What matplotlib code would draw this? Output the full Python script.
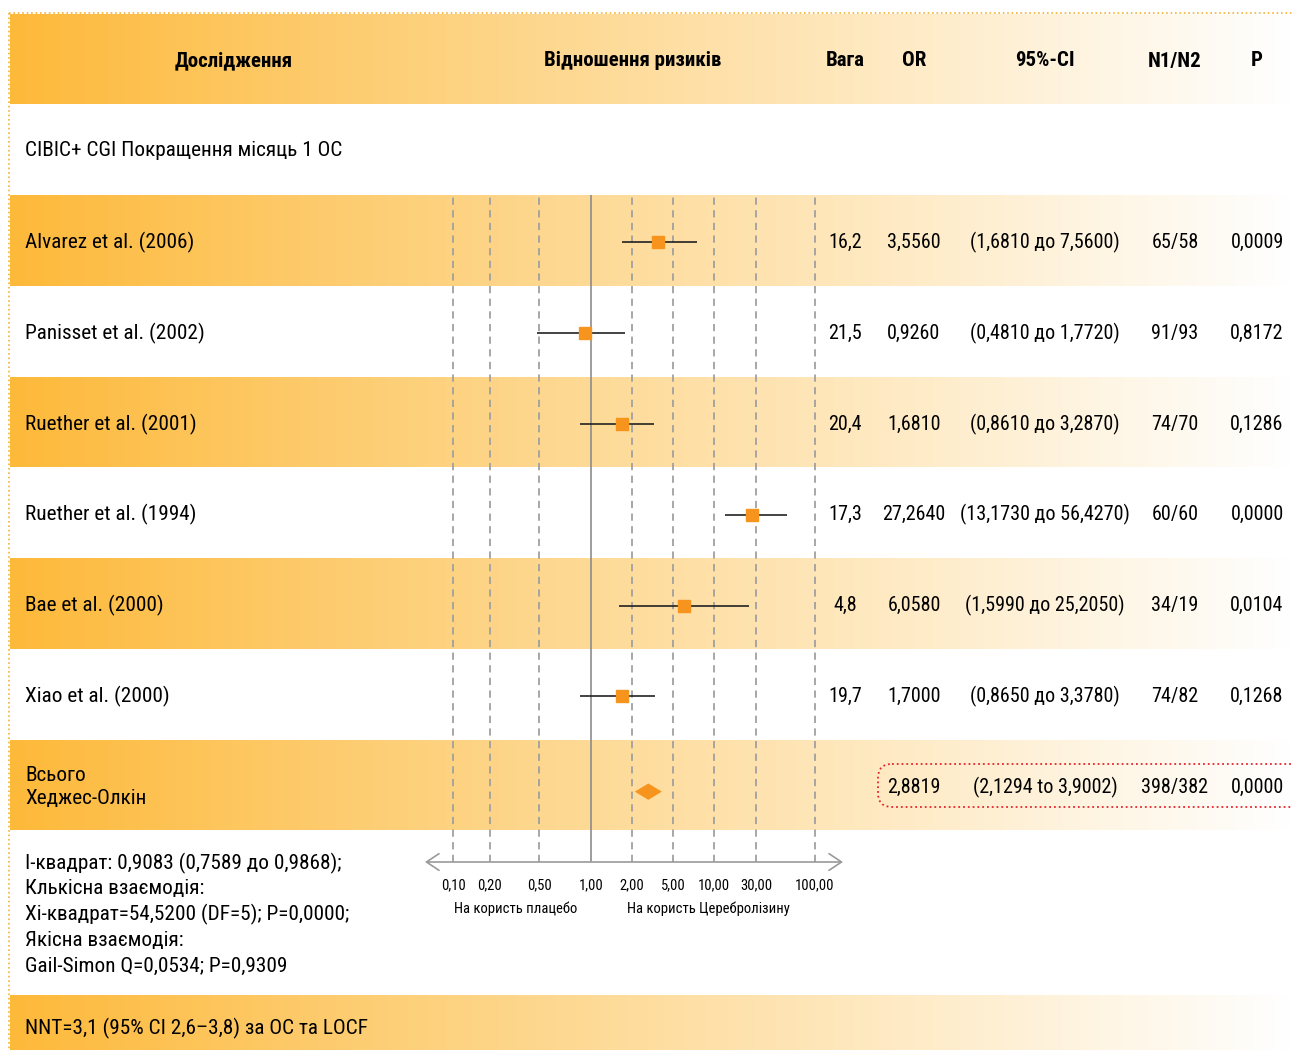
import numpy as np
import matplotlib.pyplot as plt
from matplotlib import font_manager
from matplotlib.patches import FancyBboxPatch

# --- data ---
studies = ["Alvarez et al. (2006)", "Panisset et al. (2002)", "Ruether et al. (2001)",
           "Ruether et al. (1994)", "Bae et al. (2000)", "Xiao et al. (2000)"]
weights = ["16,2", "21,5", "20,4", "17,3", "4,8", "19,7"]
odds = [3.556, 0.926, 1.681, 27.264, 6.058, 1.700]
ci_low = [1.681, 0.481, 0.861, 13.173, 1.599, 0.865]
ci_high = [7.560, 1.772, 3.287, 56.427, 25.205, 3.378]
ci_text = ["(1,6810 до 7,5600)", "(0,4810 до 1,7720)", "(0,8610 до 3,2870)",
           "(13,1730 до 56,4270)", "(1,5990 до 25,2050)", "(0,8650 до 3,3780)"]
n1n2 = ["65/58", "91/93", "74/70", "60/60", "34/19", "74/82"]
p_vals = ["0,0009", "0,8172", "0,1286", "0,0000", "0,0104", "0,1268"]

pooled_or = 2.8819
pooled_low = 2.1294
pooled_high = 3.9002
pooled_text = ["2,8819", "(2,1294 to 3,9002)", "398/382", "0,0000"]

headers = ["Дослідження", "Відношення ризиків", "Вага", "OR", "95%-CI", "N1/N2", "P"]
tick_vals = [0.1, 0.2, 0.5, 1, 2, 5, 10, 30, 100]
tick_labels = ["0,10", "0,20", "0,50", "1,00", "2,00", "5,00", "10,00", "30,00", "100,00"]

subgroup = "CIBIC+ CGI Покращення місяць 1 ОС"
total_label = "Всього\nХеджес-Олкін"
stats_lines = ["I-квадрат: 0,9083 (0,7589 до 0,9868);",
               "Клькісна взаємодія:",
               "Xi-квадрат=54,5200 (DF=5); P=0,0000;",
               "Якісна взаємодія:",
               "Gail-Simon Q=0,0534; P=0,9309"]
nnt_text = "NNT=3,1 (95% CI 2,6–3,8) за ОС та LOCF"

# pick a condensed face if there is one
have = {f.name for f in font_manager.fontManager.ttflist}
narrow = None
for name in ['Roboto Condensed', 'Liberation Sans Narrow', 'Open Sans Condensed']:
    if name in have:
        narrow = name
        break
if narrow:
    plt.rcParams['font.family'] = [narrow, 'DejaVu Sans']
    fs_lab, fs_dat, fs_hdr, fs_tick, fs_sub = 15.3, 14.5, 15, 10.5, 10.5
else:
    plt.rcParams['font.family'] = ['Liberation Sans', 'DejaVu Sans']
    fs_lab, fs_dat, fs_hdr, fs_tick, fs_sub = 14.5, 12, 14, 9.5, 9.5

# piecewise scale of the ratio axis (log value -> relative position)
anchor_log = np.log10([0.03, 0.1, 0.2, 0.5, 1, 2, 5, 10, 30, 100, 300])
anchor_pos = np.array([410, 453, 490, 539, 591, 632, 673, 714, 756, 815, 870], float)


def fwd(x):
    x = np.clip(np.asarray(x, float), 1e-6, None)
    return np.interp(np.log10(x), anchor_log, anchor_pos)


def inv(p):
    return 10 ** np.interp(np.asarray(p, float), anchor_pos, anchor_log)


W, H = 1293, 1050
fig = plt.figure(figsize=(W / 100, H / 100), dpi=100)

# background / table layer in pixel coordinates
bg = fig.add_axes([0, 0, 1, 1])
bg.set_xlim(0, W)
bg.set_ylim(H, 0)
bg.axis('off')

left_col = np.array([253, 185, 57]) / 255
t = np.linspace(0, 1, 400)[None, :, None] ** 0.95
grad = left_col + (1 - left_col) * t

bands = [(14, 104), (195, 286), (377, 467), (558, 649), (740, 830), (995, 1050)]
for y0, y1 in bands:
    bg.imshow(grad, extent=(10, W, y1, y0), aspect='auto', zorder=0)

# dotted frame top / left
bg.plot([9, W], [13, 13], ls=':', color='#F5B335', lw=1.2, zorder=1)
bg.plot([9, 9], [13, H], ls=':', color='#F5B335', lw=1.2, zorder=1)

hdr_x = [234, 633, 845, 914, 1045, 1175, 1257]
for hx, h in zip(hdr_x, headers):
    bg.text(hx, 61, h, ha='center', va='center', fontsize=fs_hdr, fontweight='bold')

bg.text(25, 151, subgroup, va='center', fontsize=fs_lab)

row_h = 90.8
row0 = 240.5
for i in range(len(studies)):
    yc = row0 + i * row_h + 2
    bg.text(25, yc, studies[i], va='center', fontsize=fs_lab)
    bg.text(845, yc, weights[i], ha='center', va='center', fontsize=fs_dat)
    bg.text(914, yc, ("%.4f" % odds[i]).replace('.', ','), ha='center', va='center', fontsize=fs_dat)
    bg.text(1045, yc, ci_text[i], ha='center', va='center', fontsize=fs_dat)
    bg.text(1175, yc, n1n2[i], ha='center', va='center', fontsize=fs_dat)
    bg.text(1257, yc, p_vals[i], ha='center', va='center', fontsize=fs_dat)

bg.text(25, 787, total_label, va='center', fontsize=fs_lab, linespacing=1.3)
for hx, s in zip([914, 1045, 1175, 1257], pooled_text):
    bg.text(hx, 787, s, ha='center', va='center', fontsize=fs_dat)
bg.add_patch(FancyBboxPatch((878, 764), 430, 43, boxstyle="round,pad=0,rounding_size=14",
                            fill=False, ec='#E3262E', ls=':', lw=1.3, zorder=2, clip_on=True))

for k, line in enumerate(stats_lines):
    bg.text(25, 863 + k * 25.8, line, va='center', fontsize=fs_lab)
bg.text(25, 1028, nnt_text, va='center', fontsize=fs_lab)

bg.text(516, 909, "На користь плацебо", ha='center', va='center', fontsize=fs_sub)
bg.text(708, 909, "На користь Церебролізину", ha='center', va='center', fontsize=fs_sub)

# forest plot axes
ax_l, ax_r, ax_t, ax_b = 425, 843, 195, 862
ax = fig.add_axes([ax_l / W, 1 - ax_b / H, (ax_r - ax_l) / W, (ax_b - ax_t) / H])
ax.set_facecolor('none')
ax.set_xscale('function', functions=(fwd, inv))
ax.set_xlim(inv(ax_l), inv(ax_r))
ax.set_ylim((ax_b - row0) / row_h, (ax_t - row0) / row_h)
for s in ax.spines.values():
    s.set_visible(False)
ax.set_yticks([])
ax.set_xticks(tick_vals)
ax.set_xticklabels(tick_labels, fontsize=fs_tick)
ax.xaxis.set_minor_locator(plt.NullLocator())
ax.tick_params(axis='x', length=0, pad=12)

for v in tick_vals:
    if v == 1:
        ax.axvline(v, color='#8c8c8c', lw=1.2, zorder=1)
    else:
        ax.axvline(v, color='#a0a0a0', lw=1.3, ls=(0, (4, 3)), zorder=1)

ys = np.arange(len(studies)) + 0.02
ax.hlines(ys, ci_low, ci_high, color='#222222', lw=1.2, zorder=3)
ax.plot(odds, ys, 's', color='#F7941D', ms=9, zorder=4)

yd = 6.07
dh = 0.09
ax.fill([pooled_low, pooled_or, pooled_high, pooled_or], [yd, yd - dh, yd, yd + dh],
        color='#F7941D', lw=0, zorder=4)

ax.annotate('', xy=(0, 0), xytext=(1, 0), xycoords='axes fraction', textcoords='axes fraction',
            arrowprops=dict(arrowstyle='<->,head_length=0.9,head_width=0.6', color='#9a9a9a',
                            lw=1.2, shrinkA=0, shrinkB=0))

fig.savefig('out.png', dpi=100)
